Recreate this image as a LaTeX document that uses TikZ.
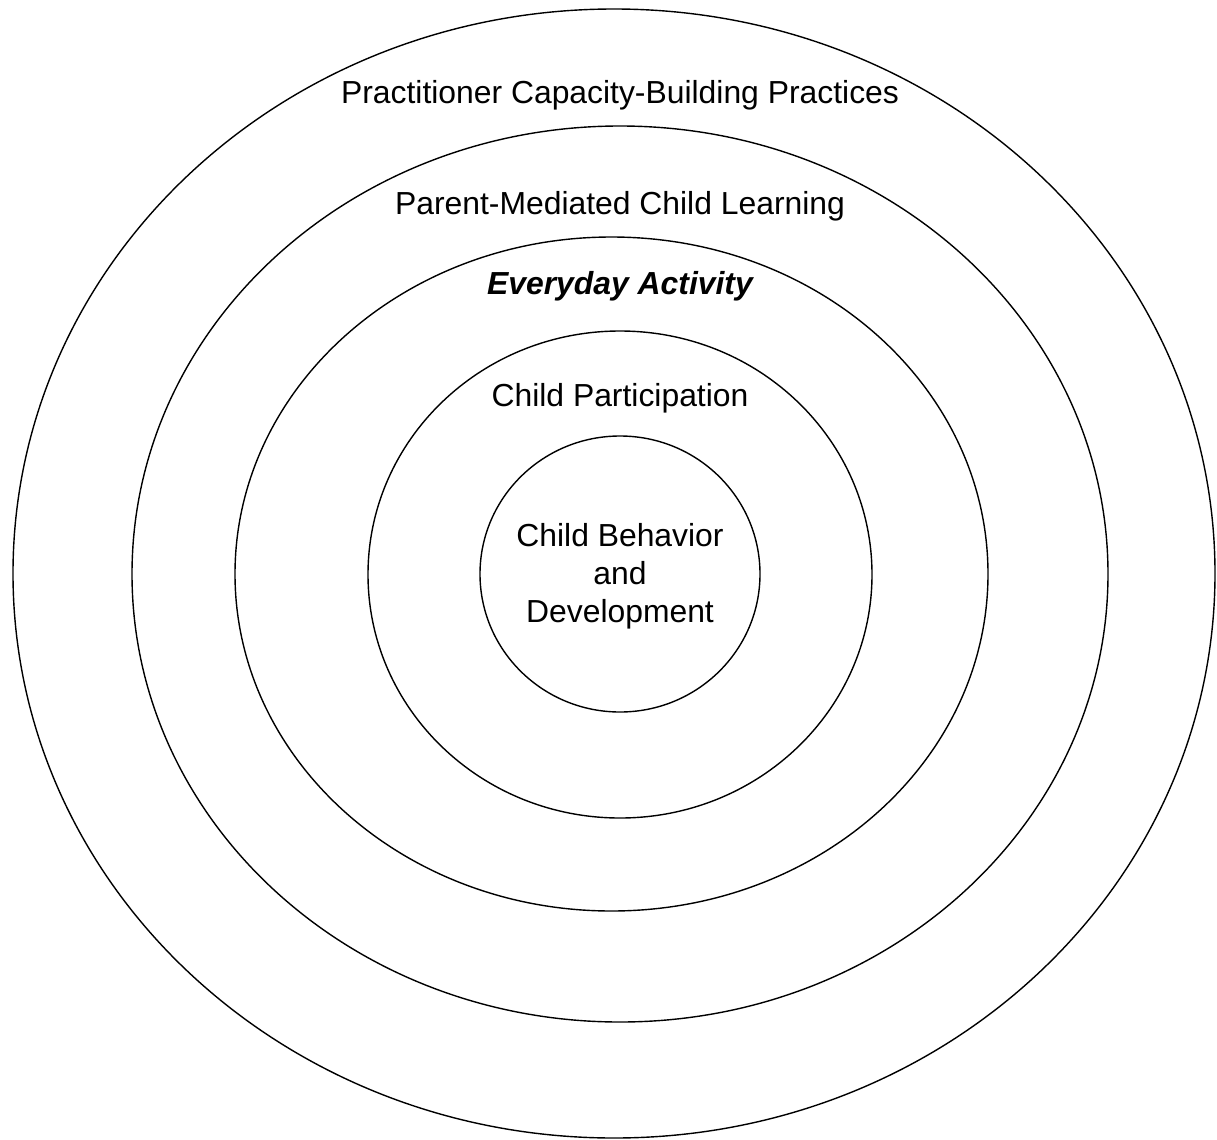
\documentclass[tikz,border=0pt]{standalone}
\usepackage{fontspec}
\setmainfont{Liberation Sans}
\usepackage{tikz}

\begin{document}
\begin{tikzpicture}[x=0.75pt,y=-0.75pt,line width=1.05pt,
  ring/.style={draw=black},
  lbl/.style={font=\fontsize{23.9}{28.5}\selectfont,align=center,inner sep=0pt}]
\useasboundingbox (0,0) rectangle (1217,1139);
\draw[ring] (614,573.5) ellipse [x radius=601,y radius=564.5];
\draw[ring] (620,574) ellipse [x radius=488,y radius=448];
\draw[ring] (611.5,574) ellipse [x radius=376.5,y radius=337];
\draw[ring] (620,574.5) ellipse [x radius=252,y radius=243.5];
\draw[ring] (620,574) ellipse [x radius=140,y radius=138];
\node[lbl] (practice) at (620,95) {Practitioner Capacity-Building Practices};
\node[lbl] (parent) at (620,206) {Parent-Mediated Child Learning};
\node[lbl] (activity) at (620,286) {\bfseries\itshape Everyday Activity};
\node[lbl] (particip) at (620,398) {Child Participation};
\node[lbl] (develop) at (620,576) {Child Behavior\\and\\Development};
\end{tikzpicture}
\end{document}
